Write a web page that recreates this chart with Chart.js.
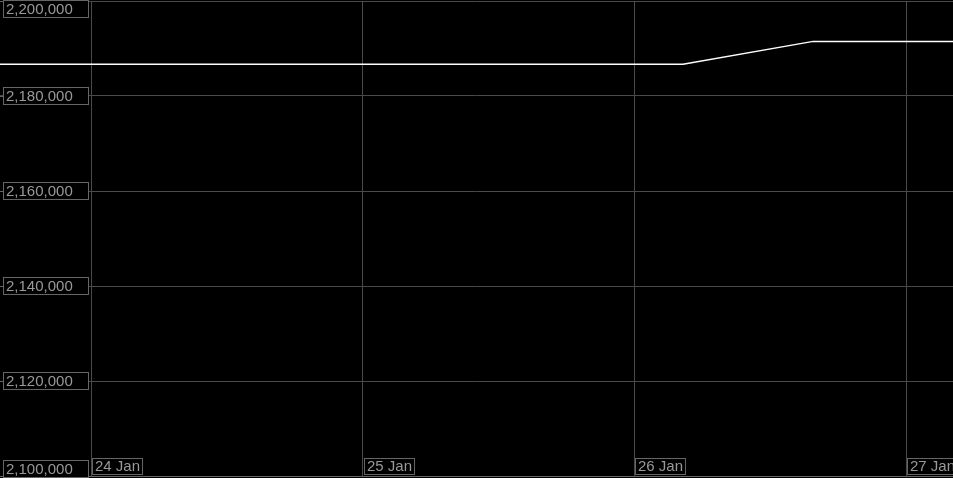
<!DOCTYPE html>
<html>
<head>
<meta charset="utf-8">
<script src="https://cdn.jsdelivr.net/npm/chart.js@4"></script>
<style>
  html, body { margin: 0; padding: 0; background: #000; }
  #wrap { width: 953px; height: 478px; position: relative; }
</style>
</head>
<body>
<div id="wrap"><canvas id="priceChart"></canvas></div>
<script>
// hours counted from 24 Jan 00:00
const xHours = [-8.04, 52.3, 63.8, 76.15];
const values = [2186700, 2186700, 2191500, 2191500];
const xTickLabels = ['24 Jan', '25 Jan', '26 Jan', '27 Jan'];
const yTicks = [2100000, 2120000, 2140000, 2160000, 2180000, 2200000];

const FONT = '15px "Liberation Sans", Arial, sans-serif';

// draws the boxed tick labels that sit inside the plot area
const boxedLabels = {
  id: 'boxedLabels',
  afterDraw(chart) {
    const ctx = chart.ctx;
    const area = chart.chartArea;
    const xs = chart.scales.x, ys = chart.scales.y;
    ctx.save();
    ctx.font = FONT;
    ctx.textBaseline = 'middle';
    ctx.lineWidth = 1;

    ys.ticks.forEach(t => {
      const py = ys.getPixelForValue(t.value);
      let top = Math.round(py) - 8.5;
      if (top < 0.5) top = 0.5;
      if (top + 17 > 477.5) top = 460.5;
      ctx.fillStyle = '#000';
      ctx.fillRect(3.5, top, 85, 17);
      ctx.strokeStyle = '#666';
      ctx.strokeRect(3.5, top, 85, 17);
      ctx.beginPath();
      ctx.moveTo(0, Math.round(py) + 0.5);
      ctx.lineTo(3, Math.round(py) + 0.5);
      ctx.stroke();
      ctx.fillStyle = '#999';
      ctx.textAlign = 'left';
      ctx.fillText(t.label, 6, top + 9);
    });

    xs.ticks.forEach(t => {
      const px = Math.round(xs.getPixelForValue(t.value));
      const w = ctx.measureText(t.label).width + 5;
      const top = 458.5;
      ctx.fillStyle = '#000';
      ctx.fillRect(px + 1.5, top, w, 16);
      ctx.strokeStyle = '#666';
      ctx.strokeRect(px + 1.5, top, w, 16);
      ctx.fillStyle = '#999';
      ctx.textAlign = 'left';
      ctx.fillText(t.label, px + 4, top + 8.5);
    });
    ctx.restore();
  }
};

const ctx = document.getElementById('priceChart').getContext('2d');
const priceChart = new Chart(ctx, {
  type: 'line',
  data: {
    datasets: [{
      data: xHours.map((h, i) => ({ x: h, y: values[i] })),
      borderColor: '#ffffff',
      borderWidth: 1.5,
      pointRadius: 0,
      tension: 0,
      fill: false
    }]
  },
  options: {
    responsive: true,
    maintainAspectRatio: false,
    animation: false,
    layout: { padding: { top: 1, bottom: 2, left: 0, right: 0 } },
    plugins: { legend: { display: false }, tooltip: { enabled: false } },
    scales: {
      x: {
        type: 'linear',
        min: -8.04,
        max: 76.15,
        afterFit(scale) { scale.height = 0; },
        grid: { color: '#4a4a4a', lineWidth: 1, drawTicks: false },
        border: { color: '#666' },
        ticks: {
          display: false,
          stepSize: 24,
          includeBounds: false,
          callback: v => xTickLabels[Math.round(v / 24)]
        }
      },
      y: {
        min: yTicks[0],
        max: yTicks[yTicks.length - 1],
        afterFit(scale) { scale.width = 0; },
        afterBuildTicks(scale) { scale.ticks = yTicks.map(v => ({ value: v })); },
        grid: { color: '#4a4a4a', lineWidth: 1, drawTicks: false },
        border: { display: false },
        ticks: {
          display: false,
          callback: v => v.toLocaleString('en-US')
        }
      }
    }
  },
  plugins: [boxedLabels]
});
</script>
</body>
</html>
